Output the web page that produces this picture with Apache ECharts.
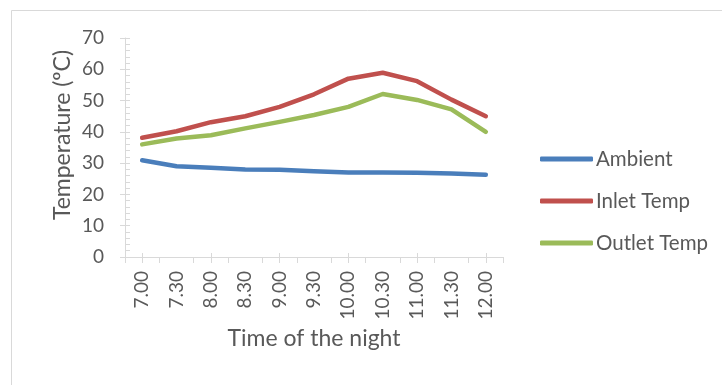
<!DOCTYPE html>
<html>
<head>
<meta charset="utf-8">
<script src="https://cdn.jsdelivr.net/npm/echarts@6/dist/echarts.min.js"></script>
<style>
html,body{margin:0;padding:0;background:#fff;}
#chart{width:722px;height:385px;}
</style>
</head>
<body>
<div id="chart"></div>
<script>
var categories = ['7.00','7.30','8.00','8.30','9.00','9.30','10.00','10.30','11.00','11.30','12.00'];
var ambient = [30.9, 29.0, 28.5, 28.0, 27.9, 27.4, 27.0, 27.0, 26.9, 26.7, 26.3];
var inletTemp = [38.1, 40.2, 43.1, 45.0, 48.0, 52.0, 57.0, 58.9, 56.2, 50.3, 45.0];
var outletTemp = [36.0, 37.9, 38.9, 41.1, 43.2, 45.4, 48.0, 52.1, 50.2, 47.2, 40.0];
var seriesNames = ['Ambient', 'Inlet Temp', 'Outlet Temp'];
var colors = ['#4A7EBB', '#C0504D', '#9BBB59'];

var FONT = 'Lato';
var TXT = '#595959';
var AX = '#d9d9d9';

var chart = echarts.init(document.getElementById('chart'), null, {renderer: 'canvas'});

function mkSeries(name, data, color) {
  return {
    name: name, type: 'line', data: data, symbol: 'none',
    xAxisIndex: 0, yAxisIndex: 0,
    lineStyle: {color: color, width: 4.5, cap: 'round', join: 'round'},
    itemStyle: {color: color},
    animation: false
  };
}

chart.setOption({
  animation: false,
  backgroundColor: '#ffffff',
  textStyle: {fontFamily: FONT},
  grid: {left: 125, right: 219, top: 38, bottom: 128},
  legend: {
    orient: 'vertical', left: 540, top: 148, padding: 0,
    icon: 'roundRect', itemWidth: 53, itemHeight: 5, itemGap: 20,
    textStyle: {fontFamily: FONT, fontSize: 20.5, color: TXT, lineHeight: 22, padding: [0, 0, 0, -2]},
    data: seriesNames
  },
  xAxis: [
    {
      type: 'category', data: categories, boundaryGap: true,
      axisLine: {show: true, lineStyle: {color: AX, width: 1}},
      axisTick: {show: true, alignWithLabel: false, inside: false, length: 6, lineStyle: {color: AX}},
      axisLabel: {rotate: 90, margin: 14, fontFamily: FONT, fontSize: 19, color: TXT, interval: 0},
      splitLine: {show: false},
      name: 'Time of the night', nameLocation: 'middle', nameGap: 63,
      nameTextStyle: {fontFamily: FONT, fontSize: 23, color: TXT}
    },
    {
      type: 'category', data: categories, boundaryGap: true, position: 'bottom',
      axisLine: {show: false},
      axisTick: {show: true, alignWithLabel: true, inside: false, length: 6, lineStyle: {color: AX}},
      axisLabel: {show: false}, splitLine: {show: false}
    },
    {
      type: 'category', data: categories, boundaryGap: true, position: 'bottom',
      axisLine: {show: false},
      axisTick: {show: true, alignWithLabel: true, inside: true, length: 4, lineStyle: {color: AX}},
      axisLabel: {show: false}, splitLine: {show: false}
    }
  ],
  yAxis: [
    {
      type: 'value', min: 0, max: 70, interval: 10,
      axisLine: {show: true, lineStyle: {color: AX, width: 1}},
      axisTick: {show: true, inside: false, length: 5, lineStyle: {color: AX}},
      axisLabel: {margin: 21, fontFamily: FONT, fontSize: 19, color: TXT},
      splitLine: {show: false}
    },
    {
      type: 'value', min: 0, max: 70, interval: 2, position: 'left',
      axisLine: {show: false},
      axisTick: {show: true, inside: true, length: 5, lineStyle: {color: AX}},
      axisLabel: {show: false}, splitLine: {show: false}
    }
  ],
  graphic: [
    {
      type: 'rect', silent: true, z: -1,
      shape: {x: 11.5, y: 10.5, width: 720, height: 400},
      style: {fill: 'none', stroke: AX, lineWidth: 1}
    },
    {
      type: 'text', silent: true,
      x: 63, y: 135, rotation: Math.PI / 2,
      style: {text: 'Temperature (ºC)', fontFamily: FONT, fontSize: 23, fill: TXT, align: 'center', verticalAlign: 'middle'}
    }
  ],
  series: [
    mkSeries(seriesNames[0], ambient, colors[0]),
    mkSeries(seriesNames[1], inletTemp, colors[1]),
    mkSeries(seriesNames[2], outletTemp, colors[2])
  ]
});
</script>
</body>
</html>
